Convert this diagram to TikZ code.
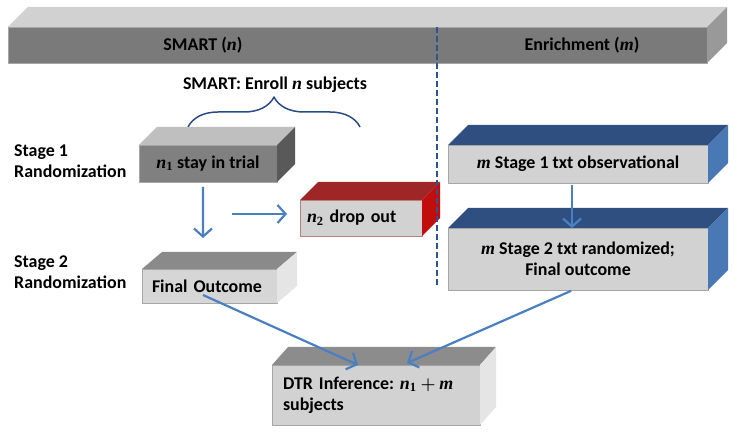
\documentclass[tikz,border=0pt]{standalone}
\usepackage{amsmath}
\usepackage{fontspec}
\setmainfont{Carlito}
\newfontfamily\mathserif{Liberation Serif}
\newcommand{\mv}[1]{\text{\mathserif\bfseries\itshape #1}}
\newcommand{\mn}[1]{\text{\mathserif\bfseries #1}}
\usetikzlibrary{arrows.meta,decorations.pathreplacing}
\definecolor{arrowblue}{HTML}{4A7FC1}
\definecolor{lineblue}{HTML}{2B4C82}
\definecolor{dashblue}{HTML}{2F5290}
\definecolor{facegray}{HTML}{D2D2D2}
\definecolor{navytop}{HTML}{2E4F7F}
\definecolor{navyside}{HTML}{4A78B4}
% top and side faces of a slab: node, depth x, depth y, top colour, side colour
\newcommand{\slabfaces}[5]{%
  \fill[#4] (#1.north west) -- ++(#2,-#3) -- ([shift={(#2,-#3)}]#1.north east) -- (#1.north east) -- cycle;
  \fill[#5] (#1.north east) -- ++(#2,-#3) -- ([shift={(#2,-#3)}]#1.south east) -- (#1.south east) -- cycle;}
\begin{document}
\frenchspacing
\begin{tikzpicture}[x=1bp, y=-1bp, font=\fontsize{18}{21}\selectfont\bfseries, line join=round,
    >={Straight Barb[length=8bp,width=18bp]},
    front/.style={inner sep=0pt, outer sep=0pt, draw=black!35, line width=0.4pt},
    arrow/.style={->, arrowblue, line width=2.2bp},
    label/.style={align=left, anchor=west, inner sep=0pt}]
  \useasboundingbox (0,0) rectangle (734,434);
  % heading bar
  \node[front, fill=black!52, minimum width=699bp, minimum height=36bp] (bar) at (357.5,45) {};
  \slabfaces{bar}{20}{20}{black!18}{black!40}
  \node (smart) at (203,45) {SMART ($\mv{n}$)};
  \node (enrich) at (582,45) {Enrichment ($\mv{m}$)};
  \node (enroll) at (275,85) {SMART: Enroll $\mv{n}$ subjects};
  \draw[lineblue, line width=1.5bp, decorate, decoration={brace, amplitude=30bp}] (188,127) -- (360,127);
  % left labels
  \node[label] (stage1) at (14,161) {Stage 1\\Randomization};
  \node[label] (stage2) at (14,272) {Stage 2\\Randomization};
  % SMART part
  \node[front, fill=black!50, minimum width=138bp, minimum height=37bp] (stay) at (208,163.5) {$\mv{n}_{\mn{1}}$ stay in trial};
  \slabfaces{stay}{18}{18}{black!25}{black!65}
  \node[front, draw=red!45!black!50, fill=facegray, minimum height=36bp, text width=108bp, inner xsep=7bp, align=left] (drop) at (361,218) {$\mv{n}_{\mn{2}}$ drop out};
  \slabfaces{drop}{18}{18}{red!55!black!85}{red!75!black!95}
  \node[front, fill=black!16, minimum height=34bp, text width=115bp, inner xsep=10bp, align=left] (final) at (209.5,286) {Final Outcome};
  \slabfaces{final}{20}{17}{black!46}{black!10}
  % enrichment part
  \node[front, fill=facegray, minimum width=260bp, minimum height=38bp] (obs) at (578,164) {$\mv{m}$ Stage 1 txt observational};
  \slabfaces{obs}{20}{20}{navytop}{navyside}
  \node[front, fill=facegray, minimum width=260bp, minimum height=62bp, align=center] (rand) at (578,259) {$\mv{m}$ Stage 2 txt randomized;\\Final outcome};
  \slabfaces{rand}{20}{20}{navytop}{navyside}
  % inference
  \node[front, fill=facegray, minimum height=60bp, text width=186bp, inner xsep=11bp, align=left] (dtr) at (376,395) {DTR Inference: $\mv{n}_{\mn{1}}\boldsymbol{+}\mv{m}$\\subjects};
  \slabfaces{dtr}{16}{18}{black!45}{black!10}
  % split between the two parts
  \coordinate (dtop) at (437,27);
  \coordinate (dbot) at (437,288);
  \draw[dashblue, line width=1.2bp, dash pattern=on 6bp off 3bp] (dtop) -- (dbot);
  % connectors
  \coordinate (split) at (232,214);
  \draw[arrow, shorten <=5bp, shorten >=31bp] ([xshift=-5bp]stay.south) -- ([xshift=-6.5bp]final.north);
  \draw[arrow, shorten >=13bp] (split) -- (split -| drop.west);
  \draw[arrow, shorten <=2bp] ([xshift=-6bp]obs.south) -- ([xshift=-6bp]rand.north);
  \draw[arrow] ([shift={(-6.5bp,-9bp)}]final.center) -- ([xshift=-18bp]dtr.north);
  \draw[arrow, shorten <=2bp] ([xshift=-5bp]rand.south) -- ([shift={(31bp,2bp)}]dtr.north);
\end{tikzpicture}
\end{document}
